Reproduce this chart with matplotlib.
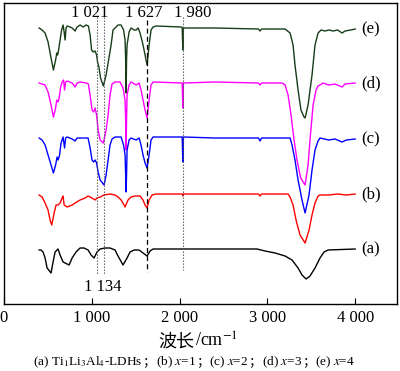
import matplotlib
matplotlib.use("Agg")
import matplotlib.pyplot as plt

# IR spectra (wavenumber / cm-1, vertical position in arbitrary units, larger = lower)
wn_e = [400, 434, 468, 502, 536, 563, 588, 601, 611, 622, 639, 656, 673, 685, 696, 707, 719, 753, 776, 810,
        833, 867, 901, 935, 961, 981, 998, 1015, 1038, 1055, 1066, 1083, 1100, 1132, 1163, 1186, 1220, 1242,
        1265, 1299, 1334, 1362, 1379, 1386, 1391, 1396, 1402, 1425, 1447, 1482, 1505, 1528, 1550, 1584, 1607,
        1630, 1653, 1675, 1698, 1732, 2020, 2030, 2037, 2044, 2400, 2900, 2917, 2935, 3168, 3202, 3259, 3293,
        3315, 3350, 3383, 3418, 3430, 3464, 3509, 3543, 3578, 3612, 3657, 3700, 3750, 3800, 3851, 3885, 3950, 4000]
t_e = [28, 30, 33, 42, 58, 70, 60, 53, 55, 50, 40, 30, 25, 32, 40, 28, 26, 27, 28, 31,
       27, 25, 27, 25, 26, 35, 50, 52, 51, 55, 62, 68, 78, 86, 75, 63, 45, 30,
       28, 25, 25, 30, 40, 60, 93, 60, 45, 32, 28, 30, 30, 28, 33, 45, 55,
       65, 45, 30, 27, 26, 27, 28, 50, 28, 28, 29, 31, 29, 29, 29, 33, 45,
       65, 90, 110, 117, 118, 105, 75, 45, 33, 30, 31, 30, 31, 30, 33, 31, 30, 29]

wn_d = [400, 468, 502, 536, 563, 588, 601, 616, 628, 645, 662, 679, 690, 702, 719, 776, 810, 833, 867, 935,
        961, 981, 1003, 1021, 1038, 1055, 1072, 1095, 1132, 1163, 1186, 1208, 1231, 1265, 1322, 1356, 1379,
        1386, 1391, 1396, 1402, 1425, 1447, 1505, 1539, 1561, 1584, 1607, 1630, 1653, 1675, 1698, 2030, 2037,
        2044, 2400, 2900, 2917, 2935, 3168, 3202, 3236, 3270, 3304, 3338, 3380, 3430, 3464, 3486, 3521, 3555,
        3578, 3600, 3634, 3700, 3771, 3851, 3885, 4000]
t_d = [83, 85, 92, 105, 117, 108, 100, 102, 98, 87, 82, 80, 90, 82, 81, 83, 87, 83, 82, 83,
       84, 95, 110, 112, 108, 115, 130, 140, 143, 130, 115, 95, 84, 82, 82, 88, 100,
       120, 150, 120, 95, 85, 82, 85, 83, 90, 100, 110, 118, 100, 85, 82, 83, 108,
       83, 82, 83, 85, 83, 83, 85, 95, 115, 140, 160, 178, 185, 165, 140, 105, 90,
       86, 85, 83, 85, 84, 87, 84, 83]

wn_c = [400, 434, 468, 502, 536, 563, 588, 605, 616, 633, 650, 673, 690, 702, 719, 776, 810, 833, 958, 981,
        1003, 1021, 1038, 1055, 1072, 1095, 1140, 1163, 1186, 1208, 1231, 1265, 1334, 1362, 1379, 1386, 1391,
        1396, 1402, 1425, 1447, 1505, 1539, 1561, 1584, 1607, 1630, 1653, 1675, 1698, 2030, 2037, 2044, 2400,
        2900, 2917, 2935, 3259, 3281, 3315, 3350, 3395, 3430, 3475, 3509, 3543, 3578, 3600, 3700, 3771, 3851,
        3900, 4000]
t_c = [138, 140, 145, 155, 165, 173, 165, 157, 160, 155, 143, 137, 148, 138, 137, 139, 141, 138, 138, 148,
       160, 162, 160, 163, 172, 180, 185, 175, 160, 145, 139, 137, 137, 145, 155, 175, 192,
       175, 150, 140, 138, 140, 138, 145, 155, 163, 168, 155, 140, 137, 137, 162, 137, 138,
       138, 141, 138, 138, 145, 160, 180, 200, 213, 195, 170, 150, 141, 138, 140, 139, 142,
       140, 139]

wn_b = [400, 434, 468, 502, 525, 544, 571, 593, 616, 639, 662, 673, 685, 719, 776, 810, 867, 924, 958, 1003,
        1038, 1060, 1095, 1140, 1208, 1265, 1299, 1334, 1368, 1379, 1413, 1447, 1493, 1550, 1584, 1607, 1630,
        1653, 1687, 1732, 2030, 2037, 2044, 2900, 2917, 2935, 3236, 3259, 3293, 3327, 3372, 3430, 3475, 3509,
        3543, 3578, 3600, 3700, 3800, 3900, 4000]
t_b = [195, 197, 203, 210, 220, 225, 213, 205, 205, 203, 198, 196, 205, 207, 205, 203, 200, 198, 196, 198,
       200, 198, 197, 195, 194, 195, 197, 200, 205, 207, 200, 197, 196, 196, 200, 205, 208,
       200, 195, 194, 194, 196, 194, 194, 196, 194, 194, 197, 205, 220, 235, 243, 230, 215,
       203, 196, 195, 195, 194, 195, 194]

wn_a = [400, 422, 445, 468, 491, 536, 559, 582, 605, 616, 639, 673, 742, 776, 821, 867, 912, 958, 992, 1026,
        1060, 1095, 1151, 1208, 1265, 1299, 1356, 1402, 1436, 1482, 1539, 1584, 1630, 1664, 1698, 2883, 2974,
        3088, 3202, 3281, 3350, 3395, 3441, 3486, 3543, 3600, 3646, 3691, 4000]
t_a = [250, 250, 252, 258, 268, 273, 262, 252, 250, 249, 255, 262, 265, 258, 252, 248, 248, 250, 255, 258,
       252, 249, 248, 248, 250, 256, 265, 258, 252, 250, 250, 253, 256, 251, 249, 249, 251,
       253, 256, 260, 268, 275, 279, 276, 268, 258, 252, 250, 249]

curve_names = ['(e)', '(d)', '(c)', '(b)', '(a)']
curve_colors = ['#173d17', '#ff00ff', '#0000ff', '#ff0000', '#000000']

peak_pos = [1057, 1140, 1633, 2037]
peak_text = ['1 021', '1 134', '1 627', '1 980']

SERIF = ['Liberation Serif', 'Noto Sans CJK SC', 'DejaVu Serif']
plt.rcParams['font.family'] = SERIF
plt.rcParams['mathtext.fontset'] = 'stix'


def text_row(fig, pieces, xc, y, size):
    '''put pieces one after another on a common baseline, centred at xc (figure coords)'''
    r = fig.canvas.get_renderer()
    W = fig.bbox.width
    x = 0.0
    arts = []
    for p in pieces:
        t = fig.text(x, y, p, fontsize=size, ha='left', va='baseline')
        bb = t.get_window_extent(r)
        arts.append(t)
        x = bb.x1 / W
    shift = xc - x / 2
    for t in arts:
        px, py = t.get_position()
        t.set_position((px + shift, py))


fig = plt.figure(figsize=(4, 3.71), dpi=100)
ax = fig.add_axes([0.01, 0.1806, 0.9825, 0.8113])

curves = [(wn_e, t_e), (wn_d, t_d), (wn_c, t_c), (wn_b, t_b), (wn_a, t_a)]
for (w, t), name, c in zip(curves, curve_names, curve_colors):
    ax.plot(w, t, color=c, lw=1.0)
    ax.text(4180, t[-1], name, fontsize=12, ha='center', va='center')

# marker lines
ax.vlines(peak_pos[0], 17, 275, colors='#555555', linestyles=(0, (1.2, 1.5)), lw=0.8)
ax.vlines(peak_pos[1], 17, 275, colors='#555555', linestyles=(0, (1.2, 1.5)), lw=0.8)
ax.vlines(peak_pos[2], 20, 272, colors='black', linestyles=(0, (4, 2.5)), lw=0.9)
ax.vlines(peak_pos[3], 17, 270, colors='#555555', linestyles=(0, (1.2, 1.5)), lw=0.8)

ax.text(981, 13, peak_text[0], fontsize=12, ha='center', va='center')
ax.text(1129, 287, peak_text[1], fontsize=12, ha='center', va='center')
ax.text(1595, 13, peak_text[2], fontsize=12, ha='center', va='center')
ax.text(2154, 13, peak_text[3], fontsize=12, ha='center', va='center')

ax.set_xlim(0, 4477)
ax.set_ylim(304, 3)
ax.set_xticks([0, 1000, 2000, 3000, 4000])
ax.set_xticklabels(['0', '1 000', '2 000', '3 000', '4 000'], fontsize=12)
ax.set_yticks([])
ax.tick_params(axis='x', direction='in', length=4, width=0.8, pad=4)
for s in ax.spines.values():
    s.set_linewidth(1.0)

text_row(fig, ['波长', '/cm$^{-1}$'], 0.495, 1 - 347 / 371, 13)
text_row(fig, ['(a) Ti$_1$Li$_3$Al$_4$-LDHs', '；', '(b) $x$=1', '；', '(c) $x$=2', '；',
               '(d) $x$=3', '；', '(e) $x$=4'], 0.485, 1 - 365 / 371, 9.5)

fig.savefig('out.png', dpi=100)
